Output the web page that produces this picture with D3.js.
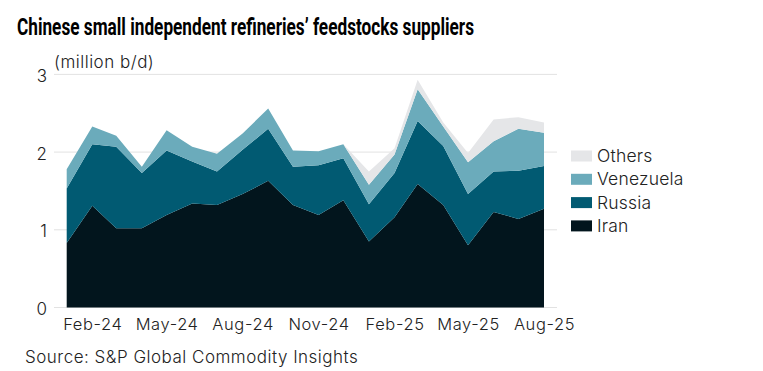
<!DOCTYPE html>
<html>
<head>
<meta charset="utf-8">
<script src="https://cdn.jsdelivr.net/npm/d3@7"></script>
<style>
  body { margin: 0; background: #fff; }
  text { font-family: Inter, "Noto Sans", sans-serif; }
</style>
</head>
<body>
<div id="chart"></div>
<script>
var months = ["Jan-24","Feb-24","Mar-24","Apr-24","May-24","Jun-24","Jul-24","Aug-24","Sep-24","Oct-24","Nov-24","Dec-24",
              "Jan-25","Feb-25","Mar-25","Apr-25","May-25","Jun-25","Jul-25","Aug-25"];
var iran      = [0.83,1.31,1.02,1.02,1.19,1.34,1.32,1.46,1.63,1.32,1.19,1.38,0.85,1.16,1.59,1.32,0.80,1.23,1.14,1.27];
var russia    = [0.70,0.79,1.05,0.71,0.83,0.54,0.43,0.57,0.67,0.49,0.64,0.54,0.48,0.57,0.81,0.76,0.66,0.52,0.62,0.55];
var venezuela = [0.25,0.23,0.14,0.08,0.26,0.19,0.23,0.21,0.26,0.21,0.18,0.18,0.25,0.24,0.41,0.25,0.41,0.39,0.54,0.43];
var others    = [0,0,0,0,0,0,0,0,0,0,0,0,0.17,0.08,0.12,0.05,0.12,0.28,0.15,0.13];
var seriesNames = ["Iran","Russia","Venezuela","Others"];
var xTickLabels = ["Feb-24","May-24","Aug-24","Nov-24","Feb-25","May-25","Aug-25"];
var yTicks = [0,1,2,3];

var colors = {Iran: "#02151d", Russia: "#015a72", Venezuela: "#6babbb", Others: "#e5e6e8"};
var width = 763, height = 371;
var parseMonth = d3.timeParse("%b-%y");

var rows = months.map(function(m, i) {
  return {date: parseMonth(m), Iran: iran[i], Russia: russia[i], Venezuela: venezuela[i], Others: others[i]};
});

var x = d3.scaleTime()
  .domain(d3.extent(rows, function(d) { return d.date; }))
  .range([66.7, 544]);
var y = d3.scaleLinear()
  .domain([0, 3])
  .range([307.5, 74.4]);

var svg = d3.select("#chart").append("svg")
  .attr("width", width)
  .attr("height", height);

// title
svg.append("text")
  .attr("x", 17).attr("y", 34.5)
  .attr("textLength", 457).attr("lengthAdjust", "spacingAndGlyphs")
  .style("font-family", "Roboto, sans-serif")
  .style("font-weight", 700)
  .style("font-size", "23.5px")
  .style("fill", "#000")
  .text("Chinese small independent refineries\u2019 feedstocks suppliers");

svg.append("text")
  .attr("x", 54).attr("y", 67.5)
  .style("font-size", "17px").style("font-weight", 300).style("fill", "#222")
  .style("letter-spacing", "0.5px")
  .text("(million b/d)");

// gridlines
svg.append("g").selectAll("line")
  .data(yTicks)
  .enter().append("line")
  .attr("x1", 54).attr("x2", 557)
  .attr("y1", function(d) { return y(d); })
  .attr("y2", function(d) { return y(d); })
  .style("stroke", "#e2e2e2")
  .style("stroke-width", 1);

var stack = d3.stack().keys(seriesNames);
var layers = stack(rows);

var area = d3.area()
  .x(function(d) { return x(d.data.date); })
  .y0(function(d) { return y(d[0]); })
  .y1(function(d) { return y(d[1]); });

svg.append("g").selectAll("path")
  .data(layers)
  .enter().append("path")
  .attr("d", area)
  .style("fill", function(d) { return colors[d.key]; });

// y axis labels
svg.append("g")
  .attr("transform", "translate(47,1.5)")
  .call(d3.axisLeft(y).tickValues(yTicks).tickSize(0).tickPadding(0).tickFormat(d3.format("d")))
  .call(function(g) { g.select(".domain").remove(); })
  .selectAll("text")
  .style("font-family", "Inter, sans-serif")
  .style("font-size", "17px").style("font-weight", 300).style("fill", "#222");

// x axis labels
svg.append("g")
  .attr("transform", "translate(0,310)")
  .call(d3.axisBottom(x).tickValues(xTickLabels.map(parseMonth)).tickSize(0).tickPadding(8)
    .tickFormat(d3.timeFormat("%b-%y")))
  .call(function(g) { g.select(".domain").remove(); })
  .selectAll("text")
  .style("font-family", "Inter, sans-serif")
  .style("letter-spacing", "0.6px")
  .style("font-size", "16.5px").style("font-weight", 300).style("fill", "#222");

// legend
var legend = svg.append("g").selectAll("g")
  .data(seriesNames.slice().reverse())
  .enter().append("g")
  .attr("transform", function(d, i) { return "translate(571," + (150.5 + i * 23.3) + ")"; });
legend.append("rect")
  .attr("width", 21).attr("height", 11)
  .style("fill", function(d) { return colors[d]; });
legend.append("text")
  .attr("x", 26).attr("y", 11.5)
  .style("font-size", "17.5px").style("font-weight", 300).style("fill", "#222")
  .style("letter-spacing", "0.2px")
  .text(function(d) { return d; });

svg.append("text")
  .attr("x", 25).attr("y", 363)
  .style("font-size", "17px").style("font-weight", 300).style("fill", "#222")
  .style("letter-spacing", "0.5px")
  .text("Source: S&P Global Commodity Insights");
</script>
</body>
</html>
